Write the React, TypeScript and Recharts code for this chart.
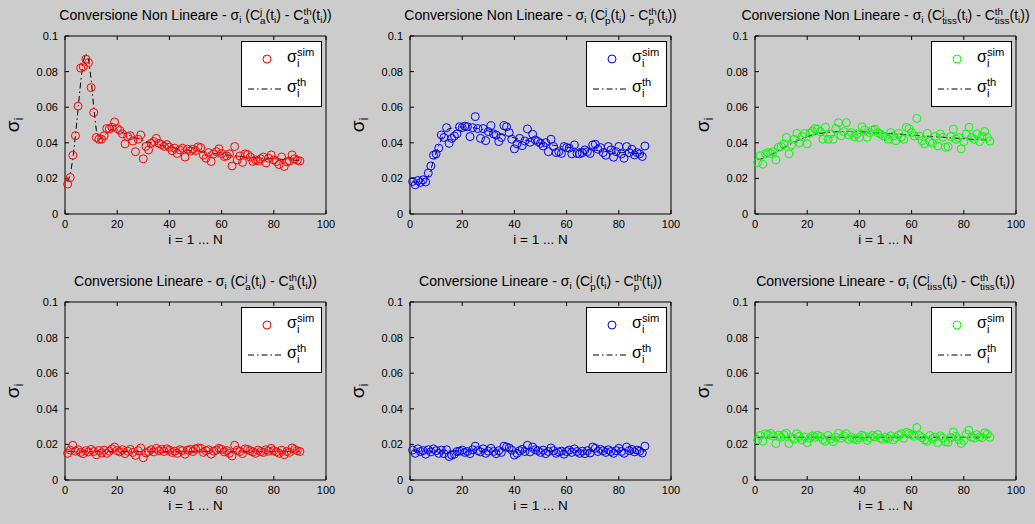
import React from 'react';
import { ComposedChart, Scatter, Line, XAxis, YAxis, Legend } from 'recharts';

const FONT = '"Liberation Sans", Arial, Helvetica, sans-serif';
const BG = '#cccccc';

const X_TICKS = [0, 20, 40, 60, 80, 100];
const Y_TICKS = [0, 0.02, 0.04, 0.06, 0.08, 0.1];

// --- Conversione Non Lineare ---
const SIM_CA_NL = [
  0.0168, 0.0205, 0.0330, 0.0440, 0.0606, 0.0820, 0.0827, 0.0870, 0.0850, 0.0710,
  0.0570, 0.0430, 0.0420, 0.0420, 0.0440, 0.0480, 0.0478, 0.0487, 0.0517, 0.0480,
  0.0470, 0.0450, 0.0394, 0.0435, 0.0440, 0.0410, 0.0350, 0.0420, 0.0444, 0.0310,
  0.0380, 0.0360, 0.0397, 0.0407, 0.0425, 0.0397, 0.0390, 0.0380, 0.0390, 0.0375,
  0.0356, 0.0370, 0.0340, 0.0360, 0.0370, 0.0320, 0.0364, 0.0354, 0.0364, 0.0356,
  0.0377, 0.0373, 0.0330, 0.0313, 0.0345, 0.0295, 0.0338, 0.0350, 0.0366, 0.0340,
  0.0323, 0.0326, 0.0338, 0.0270, 0.0379, 0.0304, 0.0326, 0.0290, 0.0338, 0.0334,
  0.0320, 0.0295, 0.0304, 0.0298, 0.0310, 0.0320, 0.0287, 0.0313, 0.0332, 0.0304,
  0.0295, 0.0278, 0.0320, 0.0267, 0.0293, 0.0297, 0.0332, 0.0310, 0.0302, 0.0298,
];
const TH_CA_NL = [
  0.0180, 0.0220, 0.0310, 0.0440, 0.0590, 0.0740, 0.0860, 0.0900, 0.0870, 0.0760,
  0.0600, 0.0470, 0.0420, 0.0425, 0.0440, 0.0455, 0.0468, 0.0475, 0.0478, 0.0472,
  0.0465, 0.0458, 0.0452, 0.0446, 0.0440, 0.0434, 0.0428, 0.0423, 0.0418, 0.0413,
  0.0408, 0.0404, 0.0400, 0.0396, 0.0392, 0.0389, 0.0386, 0.0383, 0.0380, 0.0377,
  0.0374, 0.0371, 0.0368, 0.0366, 0.0363, 0.0361, 0.0359, 0.0357, 0.0355, 0.0353,
  0.0351, 0.0349, 0.0347, 0.0345, 0.0343, 0.0341, 0.0340, 0.0338, 0.0336, 0.0335,
  0.0333, 0.0332, 0.0330, 0.0329, 0.0327, 0.0326, 0.0325, 0.0323, 0.0322, 0.0321,
  0.0320, 0.0318, 0.0317, 0.0316, 0.0315, 0.0314, 0.0313, 0.0312, 0.0311, 0.0310,
  0.0309, 0.0308, 0.0307, 0.0306, 0.0305, 0.0304, 0.0303, 0.0302, 0.0301, 0.0300,
];
const SIM_CP_NL = [
  0.0183, 0.0164, 0.0188, 0.0177, 0.0192, 0.0180, 0.0230, 0.0270, 0.0330, 0.0338,
  0.0370, 0.0444, 0.0430, 0.0485, 0.0397, 0.0425, 0.0438, 0.0450, 0.0490, 0.0485,
  0.0494, 0.0490, 0.0435, 0.0485, 0.0547, 0.0480, 0.0425, 0.0480, 0.0412, 0.0463,
  0.0496, 0.0450, 0.0444, 0.0407, 0.0430, 0.0496, 0.0490, 0.0457, 0.0420, 0.0366,
  0.0394, 0.0425, 0.0384, 0.0410, 0.0478, 0.0403, 0.0448, 0.0416, 0.0407, 0.0397,
  0.0382, 0.0401, 0.0350, 0.0420, 0.0379, 0.0345, 0.0350, 0.0340, 0.0379, 0.0373,
  0.0370, 0.0338, 0.0388, 0.0340, 0.0338, 0.0345, 0.0360, 0.0350, 0.0340, 0.0388,
  0.0392, 0.0364, 0.0373, 0.0345, 0.0330, 0.0379, 0.0360, 0.0319, 0.0350, 0.0379,
  0.0338, 0.0313, 0.0379, 0.0345, 0.0364, 0.0332, 0.0345, 0.0338, 0.0323, 0.0382,
];
const TH_CP_NL = [
  0.0180, 0.0178, 0.0180, 0.0182, 0.0185, 0.0192, 0.0210, 0.0250, 0.0300, 0.0345,
  0.0385, 0.0420, 0.0450, 0.0470, 0.0480, 0.0482, 0.0484, 0.0486, 0.0488, 0.0489,
  0.0489, 0.0488, 0.0487, 0.0485, 0.0483, 0.0480, 0.0477, 0.0474, 0.0471, 0.0467,
  0.0463, 0.0459, 0.0455, 0.0451, 0.0447, 0.0443, 0.0439, 0.0435, 0.0431, 0.0428,
  0.0424, 0.0421, 0.0418, 0.0415, 0.0412, 0.0409, 0.0406, 0.0403, 0.0400, 0.0398,
  0.0395, 0.0393, 0.0390, 0.0388, 0.0386, 0.0384, 0.0382, 0.0380, 0.0378, 0.0376,
  0.0374, 0.0372, 0.0370, 0.0369, 0.0367, 0.0365, 0.0364, 0.0362, 0.0361, 0.0359,
  0.0358, 0.0356, 0.0355, 0.0354, 0.0352, 0.0351, 0.0350, 0.0349, 0.0347, 0.0346,
  0.0345, 0.0344, 0.0343, 0.0342, 0.0341, 0.0340, 0.0339, 0.0338, 0.0337, 0.0336,
];
const SIM_TISS_NL = [
  0.0289, 0.0327, 0.0280, 0.0338, 0.0345, 0.0340, 0.0350, 0.0304, 0.0375, 0.0379,
  0.0392, 0.0430, 0.0338, 0.0388, 0.0420, 0.0453, 0.0401, 0.0435, 0.0453, 0.0394,
  0.0453, 0.0466, 0.0480, 0.0476, 0.0463, 0.0420, 0.0487, 0.0420, 0.0450, 0.0420,
  0.0480, 0.0513, 0.0440, 0.0463, 0.0513, 0.0444, 0.0457, 0.0435, 0.0450, 0.0430,
  0.0490, 0.0472, 0.0431, 0.0457, 0.0472, 0.0476, 0.0457, 0.0450, 0.0440, 0.0435,
  0.0420, 0.0457, 0.0438, 0.0412, 0.0453, 0.0431, 0.0420, 0.0487, 0.0480, 0.0457,
  0.0438, 0.0537, 0.0438, 0.0412, 0.0394, 0.0453, 0.0407, 0.0397, 0.0435, 0.0382,
  0.0450, 0.0431, 0.0375, 0.0379, 0.0435, 0.0476, 0.0420, 0.0430, 0.0366, 0.0407,
  0.0450, 0.0487, 0.0431, 0.0420, 0.0450, 0.0407, 0.0438, 0.0463, 0.0430, 0.0410,
];
const TH_TISS_NL = [
  0.0305, 0.0308, 0.0312, 0.0318, 0.0325, 0.0332, 0.0340, 0.0348, 0.0356, 0.0364,
  0.0372, 0.0380, 0.0388, 0.0396, 0.0403, 0.0410, 0.0417, 0.0423, 0.0429, 0.0434,
  0.0439, 0.0443, 0.0447, 0.0450, 0.0453, 0.0455, 0.0457, 0.0459, 0.0460, 0.0461,
  0.0462, 0.0463, 0.0463, 0.0464, 0.0464, 0.0464, 0.0464, 0.0463, 0.0463, 0.0462,
  0.0462, 0.0461, 0.0460, 0.0459, 0.0458, 0.0457, 0.0456, 0.0455, 0.0454, 0.0453,
  0.0452, 0.0451, 0.0450, 0.0449, 0.0448, 0.0447, 0.0446, 0.0445, 0.0444, 0.0443,
  0.0442, 0.0441, 0.0440, 0.0439, 0.0438, 0.0437, 0.0436, 0.0435, 0.0434, 0.0433,
  0.0432, 0.0431, 0.0430, 0.0429, 0.0428, 0.0427, 0.0426, 0.0425, 0.0424, 0.0423,
  0.0422, 0.0421, 0.0420, 0.0420, 0.0419, 0.0418, 0.0417, 0.0417, 0.0416, 0.0415,
];

// --- Conversione Lineare ---
const SIM_CA_L = [
  0.0150, 0.0168, 0.0195, 0.0162, 0.0170, 0.0155, 0.0148, 0.0165, 0.0158, 0.0172,
  0.0160, 0.0142, 0.0166, 0.0152, 0.0168, 0.0150, 0.0162, 0.0175, 0.0185, 0.0165,
  0.0158, 0.0170, 0.0148, 0.0162, 0.0172, 0.0155, 0.0138, 0.0165, 0.0180, 0.0125,
  0.0152, 0.0160, 0.0170, 0.0158, 0.0178, 0.0165, 0.0172, 0.0160, 0.0175, 0.0168,
  0.0155, 0.0162, 0.0150, 0.0170, 0.0165, 0.0145, 0.0168, 0.0172, 0.0160, 0.0175,
  0.0180, 0.0178, 0.0155, 0.0165, 0.0170, 0.0145, 0.0162, 0.0168, 0.0178, 0.0172,
  0.0158, 0.0165, 0.0150, 0.0135, 0.0195, 0.0168, 0.0160, 0.0148, 0.0175, 0.0172,
  0.0165, 0.0158, 0.0150, 0.0168, 0.0160, 0.0155, 0.0170, 0.0162, 0.0178, 0.0165,
  0.0158, 0.0150, 0.0168, 0.0142, 0.0160, 0.0155, 0.0180, 0.0172, 0.0165, 0.0160,
];
const TH_CA_L = [
  0.016, 0.016, 0.016, 0.016, 0.016, 0.016, 0.016, 0.016, 0.016, 0.016,
  0.016, 0.016, 0.016, 0.016, 0.016, 0.016, 0.016, 0.016, 0.016, 0.016,
  0.016, 0.016, 0.016, 0.016, 0.016, 0.016, 0.016, 0.016, 0.016, 0.016,
  0.016, 0.016, 0.016, 0.016, 0.016, 0.016, 0.016, 0.016, 0.016, 0.016,
  0.016, 0.016, 0.016, 0.016, 0.016, 0.016, 0.016, 0.016, 0.016, 0.016,
  0.016, 0.016, 0.016, 0.016, 0.016, 0.016, 0.016, 0.016, 0.016, 0.016,
  0.016, 0.016, 0.016, 0.016, 0.016, 0.016, 0.016, 0.016, 0.016, 0.016,
  0.016, 0.016, 0.016, 0.016, 0.016, 0.016, 0.016, 0.016, 0.016, 0.016,
  0.016, 0.016, 0.016, 0.016, 0.016, 0.016, 0.016, 0.016, 0.016, 0.016,
];
const SIM_CP_L = [
  0.0168, 0.0150, 0.0175, 0.0160, 0.0165, 0.0145, 0.0170, 0.0158, 0.0175, 0.0165,
  0.0150, 0.0168, 0.0148, 0.0170, 0.0132, 0.0140, 0.0145, 0.0160, 0.0162, 0.0168,
  0.0155, 0.0160, 0.0148, 0.0170, 0.0190, 0.0165, 0.0158, 0.0175, 0.0150, 0.0162,
  0.0178, 0.0160, 0.0148, 0.0165, 0.0155, 0.0190, 0.0185, 0.0180, 0.0168, 0.0140,
  0.0150, 0.0165, 0.0172, 0.0160, 0.0195, 0.0158, 0.0185, 0.0170, 0.0165, 0.0155,
  0.0168, 0.0148, 0.0160, 0.0180, 0.0165, 0.0150, 0.0158, 0.0162, 0.0145, 0.0160,
  0.0168, 0.0155, 0.0175, 0.0160, 0.0150, 0.0162, 0.0148, 0.0165, 0.0152, 0.0185,
  0.0178, 0.0160, 0.0172, 0.0165, 0.0155, 0.0170, 0.0160, 0.0150, 0.0165, 0.0178,
  0.0160, 0.0150, 0.0185, 0.0165, 0.0172, 0.0158, 0.0168, 0.0162, 0.0152, 0.0190,
];
const TH_CP_L = [
  0.0163, 0.0163, 0.0163, 0.0163, 0.0163, 0.0163, 0.0163, 0.0163, 0.0163, 0.0163,
  0.0163, 0.0163, 0.0163, 0.0163, 0.0163, 0.0163, 0.0163, 0.0163, 0.0163, 0.0163,
  0.0163, 0.0163, 0.0163, 0.0163, 0.0163, 0.0163, 0.0163, 0.0163, 0.0163, 0.0163,
  0.0163, 0.0163, 0.0163, 0.0163, 0.0163, 0.0163, 0.0163, 0.0163, 0.0163, 0.0163,
  0.0163, 0.0163, 0.0163, 0.0163, 0.0163, 0.0163, 0.0163, 0.0163, 0.0163, 0.0163,
  0.0163, 0.0163, 0.0163, 0.0163, 0.0163, 0.0163, 0.0163, 0.0163, 0.0163, 0.0163,
  0.0163, 0.0163, 0.0163, 0.0163, 0.0163, 0.0163, 0.0163, 0.0163, 0.0163, 0.0163,
  0.0163, 0.0163, 0.0163, 0.0163, 0.0163, 0.0163, 0.0163, 0.0163, 0.0163, 0.0163,
  0.0163, 0.0163, 0.0163, 0.0163, 0.0163, 0.0163, 0.0163, 0.0163, 0.0163, 0.0163,
];
const SIM_TISS_L = [
  0.0225, 0.0250, 0.0218, 0.0260, 0.0255, 0.0262, 0.0248, 0.0205, 0.0252, 0.0240,
  0.0255, 0.0262, 0.0205, 0.0238, 0.0230, 0.0260, 0.0245, 0.0225, 0.0242, 0.0210,
  0.0235, 0.0248, 0.0240, 0.0252, 0.0245, 0.0228, 0.0218, 0.0250, 0.0230, 0.0215,
  0.0240, 0.0262, 0.0235, 0.0248, 0.0260, 0.0228, 0.0240, 0.0232, 0.0225, 0.0238,
  0.0252, 0.0245, 0.0222, 0.0238, 0.0250, 0.0242, 0.0255, 0.0235, 0.0228, 0.0240,
  0.0232, 0.0248, 0.0225, 0.0238, 0.0252, 0.0260, 0.0235, 0.0268, 0.0262, 0.0255,
  0.0245, 0.0295, 0.0250, 0.0238, 0.0225, 0.0218, 0.0250, 0.0232, 0.0240, 0.0210,
  0.0248, 0.0235, 0.0215, 0.0212, 0.0238, 0.0270, 0.0245, 0.0228, 0.0205, 0.0222,
  0.0258, 0.0280, 0.0240, 0.0235, 0.0255, 0.0242, 0.0238, 0.0265, 0.0258, 0.0240,
];
const TH_TISS_L = [
  0.024, 0.024, 0.024, 0.024, 0.024, 0.024, 0.024, 0.024, 0.024, 0.024,
  0.024, 0.024, 0.024, 0.024, 0.024, 0.024, 0.024, 0.024, 0.024, 0.024,
  0.024, 0.024, 0.024, 0.024, 0.024, 0.024, 0.024, 0.024, 0.024, 0.024,
  0.024, 0.024, 0.024, 0.024, 0.024, 0.024, 0.024, 0.024, 0.024, 0.024,
  0.024, 0.024, 0.024, 0.024, 0.024, 0.024, 0.024, 0.024, 0.024, 0.024,
  0.024, 0.024, 0.024, 0.024, 0.024, 0.024, 0.024, 0.024, 0.024, 0.024,
  0.024, 0.024, 0.024, 0.024, 0.024, 0.024, 0.024, 0.024, 0.024, 0.024,
  0.024, 0.024, 0.024, 0.024, 0.024, 0.024, 0.024, 0.024, 0.024, 0.024,
  0.024, 0.024, 0.024, 0.024, 0.024, 0.024, 0.024, 0.024, 0.024, 0.024,
];

const W = 345;
const H = 262;
const PLOT_TOP = 36;
const PLOT_BOTTOM = 214;
const PLOT_LEFT = 65;
const PLOT_RIGHT = 326;
const DASHDOT = '6 3 1.5 3';

const Sub = ({ children }: { children: React.ReactNode }) => (
  <span style={{ fontSize: '0.7em', verticalAlign: '-0.35em' }}>{children}</span>
);

const SupSub = ({ sup, sub }: { sup: string; sub: string }) => (
  <span
    style={{
      display: 'inline-block',
      verticalAlign: '-0.45em',
      fontSize: '0.7em',
      lineHeight: 1.0,
      textAlign: 'left',
    }}
  >
    <span style={{ display: 'block' }}>{sup}</span>
    <span style={{ display: 'block' }}>{sub}</span>
  </span>
);

const Title = ({ kind, sub }: { kind: string; sub: string }) => (
  <>
    Conversione {kind} - σ<Sub>i</Sub> (C<SupSub sup="j" sub={sub} />(t<Sub>i</Sub>) - C
    <SupSub sup="th" sub={sub} />(t<Sub>i</Sub>))
  </>
);

const LegendBox = ({ color }: { color: string }) => (
  <div
    style={{
      width: 81,
      height: 66,
      boxSizing: 'border-box',
      border: '1px solid #000',
      background: '#fff',
      position: 'relative',
      fontFamily: FONT,
      color: '#000',
    }}
  >
    <svg width={79} height={64} style={{ position: 'absolute', left: 0, top: 0 }}>
      <circle cx={25} cy={17} r={4} fill="none" stroke={color} strokeWidth={1} />
      <line x1={6} y1={47} x2={42} y2={47} stroke="#000" strokeWidth={1} strokeDasharray={DASHDOT} />
    </svg>
    <div style={{ position: 'absolute', left: 45, top: 5, fontSize: 16, lineHeight: '18px', whiteSpace: 'nowrap' }}>
      σ<SupSub sup="sim" sub="i" />
    </div>
    <div style={{ position: 'absolute', left: 45, top: 35, fontSize: 16, lineHeight: '18px', whiteSpace: 'nowrap' }}>
      σ<SupSub sup="th" sub="i" />
    </div>
  </div>
);

type PanelProps = {
  left: number;
  top: number;
  kind: string;
  sub: string;
  sim: number[];
  th: number[];
  color: string;
};

function Panel({ left, top, kind, sub, sim, th, color }: PanelProps) {
  const rows = sim.map((v, k) => ({ i: k + 1, sim: v, th: th[k] }));
  const tickStyle = { fill: '#000', fontSize: 11, fontFamily: FONT };
  const cx = (PLOT_LEFT + PLOT_RIGHT) / 2;
  return (
    <div style={{ position: 'absolute', left, top, width: W, height: H }}>
      <ComposedChart
        width={W}
        height={H}
        data={rows}
        margin={{ top: PLOT_TOP - 1, right: W - PLOT_RIGHT - 1, bottom: 0, left: 0 }}
      >
        <XAxis
          type="number"
          dataKey="i"
          domain={[0, 100]}
          ticks={X_TICKS}
          interval={0}
          height={H - PLOT_BOTTOM}
          tickSize={-4}
          tickMargin={10}
          stroke="#000"
          tick={tickStyle}
        />
        <XAxis
          xAxisId="top"
          orientation="top"
          type="number"
          dataKey="i"
          domain={[0, 100]}
          ticks={X_TICKS}
          interval={0}
          height={1}
          tickSize={-4}
          tickFormatter={() => ''}
          stroke="#000"
        />
        <YAxis
          type="number"
          domain={[0, 0.1]}
          ticks={Y_TICKS}
          interval={0}
          width={PLOT_LEFT}
          tickSize={-4}
          tickMargin={11}
          stroke="#000"
          tick={tickStyle}
        />
        <YAxis
          yAxisId="right"
          orientation="right"
          type="number"
          domain={[0, 0.1]}
          ticks={Y_TICKS}
          interval={0}
          width={1}
          tickSize={-4}
          tickFormatter={() => ''}
          stroke="#000"
        />
        <Scatter
          dataKey="sim"
          isAnimationActive={false}
          shape={(p: any) => (
            <circle cx={p.cx} cy={p.cy} r={4} fill="none" stroke={color} strokeWidth={1} />
          )}
        />
        <Line
          dataKey="th"
          type="linear"
          stroke="#000"
          strokeWidth={1}
          strokeDasharray={DASHDOT}
          dot={false}
          activeDot={false}
          isAnimationActive={false}
        />
        <Legend
          layout="vertical"
          align="center"
          verticalAlign="middle"
          wrapperStyle={{ left: 241, top: 41, width: 81, height: 66 }}
          content={() => <LegendBox color={color} />}
        />
      </ComposedChart>

      <div
        style={{
          position: 'absolute',
          left: 0,
          width: cx * 2,
          top: 5,
          textAlign: 'center',
          fontFamily: FONT,
          fontSize: 14,
          lineHeight: '20px',
          whiteSpace: 'nowrap',
          color: '#000',
        }}
      >
        <Title kind={kind} sub={sub} />
      </div>

      <div
        style={{
          position: 'absolute',
          left: 0,
          width: cx * 2,
          top: 232,
          textAlign: 'center',
          fontFamily: FONT,
          fontSize: 13.5,
          lineHeight: '16px',
          color: '#000',
        }}
      >
        i = 1 ... N
      </div>

      <div
        style={{
          position: 'absolute',
          left: 16,
          top: (PLOT_TOP + PLOT_BOTTOM) / 2,
          transform: 'translate(-50%, -50%) rotate(-90deg)',
          fontFamily: FONT,
          fontSize: 19,
          lineHeight: '20px',
          whiteSpace: 'nowrap',
          color: '#000',
        }}
      >
        σ<Sub>i</Sub>
      </div>
    </div>
  );
}

export default function App() {
  return (
    <div
      style={{
        position: 'absolute',
        left: 0,
        top: 0,
        width: 1035,
        height: 524,
        background: BG,
        overflow: 'hidden',
      }}
    >
      <Panel left={0} top={0} kind="Non Lineare" sub="a" sim={SIM_CA_NL} th={TH_CA_NL} color="#ff0000" />
      <Panel left={345} top={0} kind="Non Lineare" sub="p" sim={SIM_CP_NL} th={TH_CP_NL} color="#0000ff" />
      <Panel left={690} top={0} kind="Non Lineare" sub="tiss" sim={SIM_TISS_NL} th={TH_TISS_NL} color="#00ff00" />
      <Panel left={0} top={266} kind="Lineare" sub="a" sim={SIM_CA_L} th={TH_CA_L} color="#ff0000" />
      <Panel left={345} top={266} kind="Lineare" sub="p" sim={SIM_CP_L} th={TH_CP_L} color="#0000ff" />
      <Panel left={690} top={266} kind="Lineare" sub="tiss" sim={SIM_TISS_L} th={TH_TISS_L} color="#00ff00" />
    </div>
  );
}
